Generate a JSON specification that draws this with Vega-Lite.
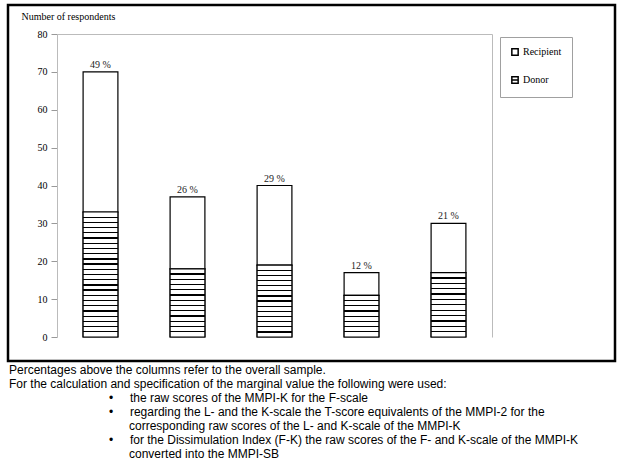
{
  "$schema": "https://vega.github.io/schema/vega-lite/v6.json",
  "width": 607,
  "height": 356,
  "autosize": {"type": "none"},
  "padding": {"left": 8, "top": 5, "right": 6, "bottom": 103},
  "background": "white",
  "title": {
    "text": [
      "Percentages above the columns refer to the overall sample.",
      "For the calculation and specification of the marginal value the following were used:",
      "\u200b\u00a0\u00a0\u00a0\u00a0\u00a0\u00a0\u00a0\u00a0\u00a0\u00a0\u00a0\u00a0\u00a0\u00a0\u00a0\u00a0\u00a0\u00a0\u00a0\u00a0\u00a0\u00a0\u00a0\u00a0\u00a0\u00a0\u00a0\u00a0\u00a0\u00a0\u2022\u00a0\u00a0\u00a0\u00a0\u00a0the raw scores of the MMPI-K for the F-scale",
      "\u200b\u00a0\u00a0\u00a0\u00a0\u00a0\u00a0\u00a0\u00a0\u00a0\u00a0\u00a0\u00a0\u00a0\u00a0\u00a0\u00a0\u00a0\u00a0\u00a0\u00a0\u00a0\u00a0\u00a0\u00a0\u00a0\u00a0\u00a0\u00a0\u00a0\u00a0\u2022\u00a0\u00a0\u00a0\u00a0\u00a0regarding the L- and the K-scale the T-score equivalents of the MMPI-2 for the",
      "\u200b\u00a0\u00a0\u00a0\u00a0\u00a0\u00a0\u00a0\u00a0\u00a0\u00a0\u00a0\u00a0\u00a0\u00a0\u00a0\u00a0\u00a0\u00a0\u00a0\u00a0\u00a0\u00a0\u00a0\u00a0\u00a0\u00a0\u00a0\u00a0\u00a0\u00a0\u00a0\u00a0\u00a0\u00a0\u00a0\u00a0corresponding raw scores of the L- and K-scale of the MMPI-K",
      "\u200b\u00a0\u00a0\u00a0\u00a0\u00a0\u00a0\u00a0\u00a0\u00a0\u00a0\u00a0\u00a0\u00a0\u00a0\u00a0\u00a0\u00a0\u00a0\u00a0\u00a0\u00a0\u00a0\u00a0\u00a0\u00a0\u00a0\u00a0\u00a0\u00a0\u00a0\u2022\u00a0\u00a0\u00a0\u00a0\u00a0for the Dissimulation Index (F-K) the raw scores of the F- and K-scale of the MMPI-K",
      "\u200b\u00a0\u00a0\u00a0\u00a0\u00a0\u00a0\u00a0\u00a0\u00a0\u00a0\u00a0\u00a0\u00a0\u00a0\u00a0\u00a0\u00a0\u00a0\u00a0\u00a0\u00a0\u00a0\u00a0\u00a0\u00a0\u00a0\u00a0\u00a0\u00a0\u00a0\u00a0\u00a0\u00a0\u00a0\u00a0\u00a0converted into the MMPI-SB"
    ],
    "orient": "bottom",
    "anchor": "start",
    "frame": "group",
    "offset": 4,
    "dx": 1,
    "baseline": "top",
    "font": "Liberation Sans",
    "fontSize": 12,
    "fontWeight": "normal",
    "lineHeight": 14,
    "color": "#000"
  },
  "data": {
    "values": [
      {"category": "F = 0", "role": "Donor", "count": 33, "ord": 1, "label": "49 %"},
      {"category": "F = 0", "role": "Recipient", "count": 37, "ord": 2, "label": "49 %"},
      {"category": "(F-K) ≤ -15", "role": "Donor", "count": 18, "ord": 1, "label": "26 %"},
      {"category": "(F-K) ≤ -15", "role": "Recipient", "count": 19, "ord": 2, "label": "26 %"},
      {"category": "T(K) ≥ 59", "role": "Donor", "count": 19, "ord": 1, "label": "29 %"},
      {"category": "T(K) ≥ 59", "role": "Recipient", "count": 21, "ord": 2, "label": "29 %"},
      {"category": "T(L) ≥ 70", "role": "Donor", "count": 11, "ord": 1, "label": "12 %"},
      {"category": "T(L) ≥ 70", "role": "Recipient", "count": 6, "ord": 2, "label": "12 %"},
      {"category": "60 ≤ T(L) < 70", "role": "Donor", "count": 17, "ord": 1, "label": "21 %"},
      {"category": "60 ≤ T(L) < 70", "role": "Recipient", "count": 13, "ord": 2, "label": "21 %"}
    ]
  },
  "resolve": {"axis": {"y": "independent"}},
  "layer": [
    {
      "mark": {"type": "bar", "stroke": "#000", "strokeWidth": 1.2, "fill": "#ffffff"},
      "encoding": {
        "x": {
          "field": "category", "type": "nominal",
          "scale": {"domain": ["F = 0", "(F-K) ≤ -15", "T(K) ≥ 59", "T(L) ≥ 70", "60 ≤ T(L) < 70"], "range": [49, 484], "paddingInner": 0.6, "paddingOuter": 0.3},
          "axis": {
            "orient": "bottom", "offset": -24, "labelAngle": 0, "ticks": false, "labelPadding": 9,
            "domainColor": "#bbbbbb", "domainWidth": 1, "grid": false,
            "title": "Features of the MMPI", "titleX": 492, "titleY": 16, "titleAlign": "left", "titleBaseline": "middle", "titleAngle": 0
          }
        },
        "y": {
          "field": "count", "type": "quantitative", "stack": "zero",
          "scale": {"domain": [0, 80], "range": [332, 29], "nice": false, "zero": true},
          "axis": {
            "orient": "left", "offset": -49, "values": [0, 10, 20, 30, 40, 50, 60, 70, 80],
            "tickSize": 6, "tickColor": "#999999", "labelPadding": 4,
            "domainColor": "#bbbbbb", "domainWidth": 1,
            "grid": true, "gridColor": "#bbbbbb",
            "gridOpacity": {"condition": {"test": "datum.value === 80", "value": 1}, "value": 0},
            "title": "Number of respondents", "titleAngle": 0, "titleX": -36, "titleY": 11, "titleAlign": "left", "titleBaseline": "middle"
          }
        },
        "order": {"field": "ord", "type": "quantitative"},
        "detail": {"field": "role", "type": "nominal"}
      }
    },
    {
      "transform": [{"filter": "datum.role === 'Donor'"}],
      "mark": {"type": "bar", "stroke": "#000", "strokeWidth": 1.2},
      "encoding": {
        "x": {"field": "category", "type": "nominal", "axis": null},
        "y": {
          "field": "count", "type": "quantitative", "stack": null,
          "scale": {"domain": [0, 80], "range": [332, 29], "nice": false, "zero": true},
          "axis": {"orient": "right", "offset": -123, "labels": false, "ticks": false, "grid": false, "title": null, "domainColor": "#bbbbbb", "domainWidth": 1}
        },
        "fill": {
          "condition": [
            {"test": "datum.category === 'F = 0'", "value": {"gradient": "linear", "x1": 0, "y1": 0, "x2": 0, "y2": 1, "stops": [
              {"offset": 0, "color": "#fff"},
              {"offset": 0.0365, "color": "#fff"}, {"offset": 0.0365, "color": "#000"}, {"offset": 0.0469, "color": "#000"}, {"offset": 0.0469, "color": "#fff"},
              {"offset": 0.0781, "color": "#fff"}, {"offset": 0.0781, "color": "#000"}, {"offset": 0.0885, "color": "#000"}, {"offset": 0.0885, "color": "#fff"},
              {"offset": 0.1198, "color": "#fff"}, {"offset": 0.1198, "color": "#000"}, {"offset": 0.1302, "color": "#000"}, {"offset": 0.1302, "color": "#fff"},
              {"offset": 0.1615, "color": "#fff"}, {"offset": 0.1615, "color": "#000"}, {"offset": 0.1719, "color": "#000"}, {"offset": 0.1719, "color": "#fff"},
              {"offset": 0.2031, "color": "#fff"}, {"offset": 0.2031, "color": "#000"}, {"offset": 0.2135, "color": "#000"}, {"offset": 0.2135, "color": "#fff"},
              {"offset": 0.2448, "color": "#fff"}, {"offset": 0.2448, "color": "#000"}, {"offset": 0.2552, "color": "#000"}, {"offset": 0.2552, "color": "#fff"},
              {"offset": 0.2865, "color": "#fff"}, {"offset": 0.2865, "color": "#000"}, {"offset": 0.2969, "color": "#000"}, {"offset": 0.2969, "color": "#fff"},
              {"offset": 0.3281, "color": "#fff"}, {"offset": 0.3281, "color": "#000"}, {"offset": 0.3385, "color": "#000"}, {"offset": 0.3385, "color": "#fff"},
              {"offset": 0.3698, "color": "#fff"}, {"offset": 0.3698, "color": "#000"}, {"offset": 0.3802, "color": "#000"}, {"offset": 0.3802, "color": "#fff"},
              {"offset": 0.4115, "color": "#fff"}, {"offset": 0.4115, "color": "#000"}, {"offset": 0.4219, "color": "#000"}, {"offset": 0.4219, "color": "#fff"},
              {"offset": 0.4531, "color": "#fff"}, {"offset": 0.4531, "color": "#000"}, {"offset": 0.4635, "color": "#000"}, {"offset": 0.4635, "color": "#fff"},
              {"offset": 0.4948, "color": "#fff"}, {"offset": 0.4948, "color": "#000"}, {"offset": 0.5052, "color": "#000"}, {"offset": 0.5052, "color": "#fff"},
              {"offset": 0.5365, "color": "#fff"}, {"offset": 0.5365, "color": "#000"}, {"offset": 0.5469, "color": "#000"}, {"offset": 0.5469, "color": "#fff"},
              {"offset": 0.5781, "color": "#fff"}, {"offset": 0.5781, "color": "#000"}, {"offset": 0.5885, "color": "#000"}, {"offset": 0.5885, "color": "#fff"},
              {"offset": 0.6198, "color": "#fff"}, {"offset": 0.6198, "color": "#000"}, {"offset": 0.6302, "color": "#000"}, {"offset": 0.6302, "color": "#fff"},
              {"offset": 0.6615, "color": "#fff"}, {"offset": 0.6615, "color": "#000"}, {"offset": 0.6719, "color": "#000"}, {"offset": 0.6719, "color": "#fff"},
              {"offset": 0.7031, "color": "#fff"}, {"offset": 0.7031, "color": "#000"}, {"offset": 0.7135, "color": "#000"}, {"offset": 0.7135, "color": "#fff"},
              {"offset": 0.7448, "color": "#fff"}, {"offset": 0.7448, "color": "#000"}, {"offset": 0.7552, "color": "#000"}, {"offset": 0.7552, "color": "#fff"},
              {"offset": 0.7865, "color": "#fff"}, {"offset": 0.7865, "color": "#000"}, {"offset": 0.7969, "color": "#000"}, {"offset": 0.7969, "color": "#fff"},
              {"offset": 0.8281, "color": "#fff"}, {"offset": 0.8281, "color": "#000"}, {"offset": 0.8385, "color": "#000"}, {"offset": 0.8385, "color": "#fff"},
              {"offset": 0.8698, "color": "#fff"}, {"offset": 0.8698, "color": "#000"}, {"offset": 0.8802, "color": "#000"}, {"offset": 0.8802, "color": "#fff"},
              {"offset": 0.9115, "color": "#fff"}, {"offset": 0.9115, "color": "#000"}, {"offset": 0.9219, "color": "#000"}, {"offset": 0.9219, "color": "#fff"},
              {"offset": 0.9531, "color": "#fff"}, {"offset": 0.9531, "color": "#000"}, {"offset": 0.9635, "color": "#000"}, {"offset": 0.9635, "color": "#fff"},
              {"offset": 1, "color": "#fff"}
            ]}},
            {"test": "datum.category === '(F-K) ≤ -15'", "value": {"gradient": "linear", "x1": 0, "y1": 0, "x2": 0, "y2": 1, "stops": [
              {"offset": 0, "color": "#fff"},
              {"offset": 0.0674, "color": "#fff"}, {"offset": 0.0674, "color": "#000"}, {"offset": 0.0864, "color": "#000"}, {"offset": 0.0864, "color": "#fff"},
              {"offset": 0.1443, "color": "#fff"}, {"offset": 0.1443, "color": "#000"}, {"offset": 0.1633, "color": "#000"}, {"offset": 0.1633, "color": "#fff"},
              {"offset": 0.2213, "color": "#fff"}, {"offset": 0.2213, "color": "#000"}, {"offset": 0.2403, "color": "#000"}, {"offset": 0.2403, "color": "#fff"},
              {"offset": 0.2982, "color": "#fff"}, {"offset": 0.2982, "color": "#000"}, {"offset": 0.3172, "color": "#000"}, {"offset": 0.3172, "color": "#fff"},
              {"offset": 0.3751, "color": "#fff"}, {"offset": 0.3751, "color": "#000"}, {"offset": 0.3941, "color": "#000"}, {"offset": 0.3941, "color": "#fff"},
              {"offset": 0.4520, "color": "#fff"}, {"offset": 0.4520, "color": "#000"}, {"offset": 0.4710, "color": "#000"}, {"offset": 0.4710, "color": "#fff"},
              {"offset": 0.5290, "color": "#fff"}, {"offset": 0.5290, "color": "#000"}, {"offset": 0.5480, "color": "#000"}, {"offset": 0.5480, "color": "#fff"},
              {"offset": 0.6059, "color": "#fff"}, {"offset": 0.6059, "color": "#000"}, {"offset": 0.6249, "color": "#000"}, {"offset": 0.6249, "color": "#fff"},
              {"offset": 0.6828, "color": "#fff"}, {"offset": 0.6828, "color": "#000"}, {"offset": 0.7018, "color": "#000"}, {"offset": 0.7018, "color": "#fff"},
              {"offset": 0.7597, "color": "#fff"}, {"offset": 0.7597, "color": "#000"}, {"offset": 0.7787, "color": "#000"}, {"offset": 0.7787, "color": "#fff"},
              {"offset": 0.8367, "color": "#fff"}, {"offset": 0.8367, "color": "#000"}, {"offset": 0.8557, "color": "#000"}, {"offset": 0.8557, "color": "#fff"},
              {"offset": 0.9136, "color": "#fff"}, {"offset": 0.9136, "color": "#000"}, {"offset": 0.9326, "color": "#000"}, {"offset": 0.9326, "color": "#fff"},
              {"offset": 1, "color": "#fff"}
            ]}},
            {"test": "datum.category === 'T(K) ≥ 59'", "value": {"gradient": "linear", "x1": 0, "y1": 0, "x2": 0, "y2": 1, "stops": [
              {"offset": 0, "color": "#fff"},
              {"offset": 0.0624, "color": "#fff"}, {"offset": 0.0624, "color": "#000"}, {"offset": 0.0804, "color": "#000"}, {"offset": 0.0804, "color": "#fff"},
              {"offset": 0.1339, "color": "#fff"}, {"offset": 0.1339, "color": "#000"}, {"offset": 0.1519, "color": "#000"}, {"offset": 0.1519, "color": "#fff"},
              {"offset": 0.2053, "color": "#fff"}, {"offset": 0.2053, "color": "#000"}, {"offset": 0.2233, "color": "#000"}, {"offset": 0.2233, "color": "#fff"},
              {"offset": 0.2767, "color": "#fff"}, {"offset": 0.2767, "color": "#000"}, {"offset": 0.2947, "color": "#000"}, {"offset": 0.2947, "color": "#fff"},
              {"offset": 0.3481, "color": "#fff"}, {"offset": 0.3481, "color": "#000"}, {"offset": 0.3661, "color": "#000"}, {"offset": 0.3661, "color": "#fff"},
              {"offset": 0.4196, "color": "#fff"}, {"offset": 0.4196, "color": "#000"}, {"offset": 0.4376, "color": "#000"}, {"offset": 0.4376, "color": "#fff"},
              {"offset": 0.4910, "color": "#fff"}, {"offset": 0.4910, "color": "#000"}, {"offset": 0.5090, "color": "#000"}, {"offset": 0.5090, "color": "#fff"},
              {"offset": 0.5624, "color": "#fff"}, {"offset": 0.5624, "color": "#000"}, {"offset": 0.5804, "color": "#000"}, {"offset": 0.5804, "color": "#fff"},
              {"offset": 0.6339, "color": "#fff"}, {"offset": 0.6339, "color": "#000"}, {"offset": 0.6519, "color": "#000"}, {"offset": 0.6519, "color": "#fff"},
              {"offset": 0.7053, "color": "#fff"}, {"offset": 0.7053, "color": "#000"}, {"offset": 0.7233, "color": "#000"}, {"offset": 0.7233, "color": "#fff"},
              {"offset": 0.7767, "color": "#fff"}, {"offset": 0.7767, "color": "#000"}, {"offset": 0.7947, "color": "#000"}, {"offset": 0.7947, "color": "#fff"},
              {"offset": 0.8481, "color": "#fff"}, {"offset": 0.8481, "color": "#000"}, {"offset": 0.8661, "color": "#000"}, {"offset": 0.8661, "color": "#fff"},
              {"offset": 0.9196, "color": "#fff"}, {"offset": 0.9196, "color": "#000"}, {"offset": 0.9376, "color": "#000"}, {"offset": 0.9376, "color": "#fff"},
              {"offset": 1, "color": "#fff"}
            ]}},
            {"test": "datum.category === 'T(L) ≥ 70'", "value": {"gradient": "linear", "x1": 0, "y1": 0, "x2": 0, "y2": 1, "stops": [
              {"offset": 0, "color": "#fff"},
              {"offset": 0.1094, "color": "#fff"}, {"offset": 0.1094, "color": "#000"}, {"offset": 0.1406, "color": "#000"}, {"offset": 0.1406, "color": "#fff"},
              {"offset": 0.2344, "color": "#fff"}, {"offset": 0.2344, "color": "#000"}, {"offset": 0.2656, "color": "#000"}, {"offset": 0.2656, "color": "#fff"},
              {"offset": 0.3594, "color": "#fff"}, {"offset": 0.3594, "color": "#000"}, {"offset": 0.3906, "color": "#000"}, {"offset": 0.3906, "color": "#fff"},
              {"offset": 0.4844, "color": "#fff"}, {"offset": 0.4844, "color": "#000"}, {"offset": 0.5156, "color": "#000"}, {"offset": 0.5156, "color": "#fff"},
              {"offset": 0.6094, "color": "#fff"}, {"offset": 0.6094, "color": "#000"}, {"offset": 0.6406, "color": "#000"}, {"offset": 0.6406, "color": "#fff"},
              {"offset": 0.7344, "color": "#fff"}, {"offset": 0.7344, "color": "#000"}, {"offset": 0.7656, "color": "#000"}, {"offset": 0.7656, "color": "#fff"},
              {"offset": 0.8594, "color": "#fff"}, {"offset": 0.8594, "color": "#000"}, {"offset": 0.8906, "color": "#000"}, {"offset": 0.8906, "color": "#fff"},
              {"offset": 1, "color": "#fff"}
            ]}}
          ],
          "value": {"gradient": "linear", "x1": 0, "y1": 0, "x2": 0, "y2": 1, "stops": [
            {"offset": 0, "color": "#fff"},
            {"offset": 0.0732, "color": "#fff"}, {"offset": 0.0732, "color": "#000"}, {"offset": 0.0934, "color": "#000"}, {"offset": 0.0934, "color": "#fff"},
            {"offset": 0.1566, "color": "#fff"}, {"offset": 0.1566, "color": "#000"}, {"offset": 0.1768, "color": "#000"}, {"offset": 0.1768, "color": "#fff"},
            {"offset": 0.2399, "color": "#fff"}, {"offset": 0.2399, "color": "#000"}, {"offset": 0.2601, "color": "#000"}, {"offset": 0.2601, "color": "#fff"},
            {"offset": 0.3232, "color": "#fff"}, {"offset": 0.3232, "color": "#000"}, {"offset": 0.3434, "color": "#000"}, {"offset": 0.3434, "color": "#fff"},
            {"offset": 0.4066, "color": "#fff"}, {"offset": 0.4066, "color": "#000"}, {"offset": 0.4268, "color": "#000"}, {"offset": 0.4268, "color": "#fff"},
            {"offset": 0.4899, "color": "#fff"}, {"offset": 0.4899, "color": "#000"}, {"offset": 0.5101, "color": "#000"}, {"offset": 0.5101, "color": "#fff"},
            {"offset": 0.5732, "color": "#fff"}, {"offset": 0.5732, "color": "#000"}, {"offset": 0.5934, "color": "#000"}, {"offset": 0.5934, "color": "#fff"},
            {"offset": 0.6566, "color": "#fff"}, {"offset": 0.6566, "color": "#000"}, {"offset": 0.6768, "color": "#000"}, {"offset": 0.6768, "color": "#fff"},
            {"offset": 0.7399, "color": "#fff"}, {"offset": 0.7399, "color": "#000"}, {"offset": 0.7601, "color": "#000"}, {"offset": 0.7601, "color": "#fff"},
            {"offset": 0.8232, "color": "#fff"}, {"offset": 0.8232, "color": "#000"}, {"offset": 0.8434, "color": "#000"}, {"offset": 0.8434, "color": "#fff"},
            {"offset": 0.9066, "color": "#fff"}, {"offset": 0.9066, "color": "#000"}, {"offset": 0.9268, "color": "#000"}, {"offset": 0.9268, "color": "#fff"},
            {"offset": 1, "color": "#fff"}
          ]}
        }
      }
    },
    {
      "transform": [
        {"aggregate": [{"op": "sum", "field": "count", "as": "total"}], "groupby": ["category", "label"]}
      ],
      "mark": {"type": "text", "baseline": "alphabetic", "dy": -4, "font": "Liberation Serif", "fontSize": 10, "color": "#222"},
      "encoding": {
        "x": {"field": "category", "type": "nominal", "axis": null},
        "y": {"field": "total", "type": "quantitative", "scale": {"domain": [0, 80], "range": [332, 29], "nice": false, "zero": true}, "axis": null},
        "text": {"field": "label", "type": "nominal"}
      }
    },
    {
      "mark": {"type": "point", "opacity": 0, "filled": false},
      "encoding": {
        "x": {"field": "category", "type": "nominal", "axis": null},
        "y": {"field": "count", "type": "quantitative", "scale": {"domain": [0, 80], "range": [332, 29], "nice": false, "zero": true}, "axis": null},
        "shape": {
          "field": "role", "type": "nominal",
          "scale": {"domain": ["Recipient", "Donor"], "range": ["square", "M-1,-1H1V1H-1ZM-1,0H1"]},
          "legend": {
            "orient": "none", "legendX": 492, "legendY": 32, "title": null,
            "strokeColor": "#a0a0a0", "fillColor": "#ffffff", "padding": 10, "rowPadding": 14,
            "symbolSize": 40, "symbolStrokeColor": "#000", "symbolStrokeWidth": 1.5, "symbolFillColor": "#ffffff", "symbolOpacity": 1,
            "labelFont": "Liberation Serif", "labelFontSize": 10, "labelColor": "#000", "labelOffset": 3,
            "encode": {
              "symbols": {
                "update": {
                  "stroke": {"value": "#000000"},
                  "strokeWidth": {"value": 1.5},
                  "opacity": {"value": 1},
                  "fill": {"value": "#ffffff"}
                }
              }
            }
          }
        }
      }
    }
  ],
  "config": {
    "view": {"stroke": "#000", "strokeWidth": 2.5, "fill": "#ffffff"},
    "axis": {
      "labelFont": "Liberation Serif", "titleFont": "Liberation Serif",
      "labelFontSize": 10, "titleFontSize": 10, "titleFontWeight": "normal",
      "labelColor": "#000", "titleColor": "#000"
    }
  }
}
